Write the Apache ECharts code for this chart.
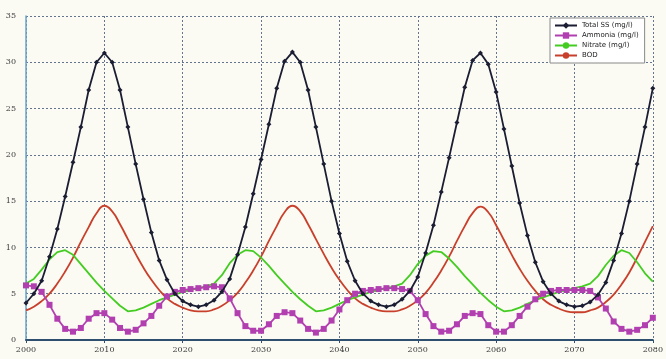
<!DOCTYPE html>
<html>
<head>
<meta charset="utf-8">
<script src="https://cdn.jsdelivr.net/npm/echarts@6/dist/echarts.min.js"></script>
<style>
html,body{margin:0;padding:0;background:#fbfbf3;}
#c{width:666px;height:359px;}
</style>
</head>
<body>
<div id="c"></div>
<script>
const years = [];
for (let y = 2000; y <= 2080; y++) years.push(y);

const xTicks = [2000, 2010, 2020, 2030, 2040, 2050, 2060, 2070, 2080];
const yTicks = [0, 5, 10, 15, 20, 25, 30, 35];

const seriesNames = ["Total SS (mg/l)", "Ammonia (mg/l)", "Nitrate (mg/l)", "BOD"];

const totalSS = [
  4.0, 5.0, 6.4, 9.0, 12.0, 15.5, 19.2, 23.0, 27.0, 30.0,
  31.0, 30.0, 27.0, 23.0, 19.0, 15.2, 11.6, 8.6, 6.5, 5.0,
  4.2, 3.8, 3.6, 3.8, 4.3, 5.2, 6.6, 9.2, 12.2, 15.8,
  19.5, 23.3, 27.2, 30.1, 31.1, 30.0, 27.0, 23.0, 19.0, 15.0,
  11.5, 8.5, 6.4, 5.0, 4.2, 3.8, 3.6, 3.8, 4.4, 5.3,
  6.8, 9.4, 12.4, 16.0, 19.7, 23.5, 27.3, 30.2, 31.0, 29.8,
  26.8, 22.8, 18.8, 14.8, 11.3, 8.4, 6.3, 5.0, 4.2, 3.8,
  3.6, 3.7, 4.1, 4.9, 6.2, 8.6, 11.5, 15.0, 19.0, 23.0,
  27.2
];

const ammonia = [
  5.9, 5.8, 5.2, 3.8, 2.3, 1.2, 0.9, 1.3, 2.3, 2.9,
  2.9, 2.2, 1.3, 0.9, 1.1, 1.8, 2.6, 3.7, 4.7, 5.2,
  5.4, 5.5, 5.6, 5.7, 5.8, 5.7, 4.5, 2.9, 1.5, 1.0,
  1.0, 1.7, 2.6, 3.0, 2.9, 2.1, 1.2, 0.8, 1.2, 2.1,
  3.3, 4.3, 5.0, 5.3, 5.4, 5.5, 5.6, 5.6, 5.5, 5.3,
  4.3, 2.8, 1.5, 0.9, 1.0, 1.7, 2.6, 2.9, 2.8, 1.6,
  0.9, 0.9, 1.6, 2.6, 3.6, 4.4, 5.0, 5.3, 5.4, 5.4,
  5.4, 5.4, 5.3, 4.6, 3.4, 2.0, 1.2, 0.9, 1.1, 1.6,
  2.4
];

const nitrate = [
  6.1, 6.6, 7.6, 8.7, 9.5, 9.7, 9.2, 8.2, 7.2, 6.2,
  5.3, 4.5, 3.7, 3.1, 3.2, 3.5, 3.9, 4.3, 4.6, 4.9,
  5.2, 5.4, 5.6, 5.8, 6.1, 7.0, 8.3, 9.2, 9.7, 9.6,
  8.9, 8.0, 7.0, 6.1, 5.2, 4.4, 3.7, 3.1, 3.2, 3.5,
  3.9, 4.3, 4.6, 4.9, 5.2, 5.4, 5.6, 5.8, 6.1, 7.0,
  8.2, 9.1, 9.6, 9.5, 8.8, 7.9, 6.9, 6.0, 5.1, 4.3,
  3.6, 3.1, 3.2, 3.5, 3.9, 4.3, 4.6, 4.9, 5.2, 5.4,
  5.6, 5.8, 6.1, 6.9, 8.1, 9.1, 9.7, 9.4, 8.4, 7.2,
  6.3
];

const bod = [
  3.2, 3.6, 4.2, 5.0, 6.1, 7.4, 8.9, 10.6, 12.2, 13.7,
  14.5, 13.9, 12.5, 10.9, 9.3, 7.8, 6.5, 5.4, 4.5, 3.9,
  3.5, 3.2, 3.1, 3.1, 3.3, 3.7, 4.3, 5.1, 6.2, 7.5,
  9.0, 10.7, 12.3, 13.8, 14.5, 13.9, 12.5, 10.9, 9.3, 7.8,
  6.5, 5.4, 4.5, 3.9, 3.5, 3.2, 3.1, 3.1, 3.3, 3.7,
  4.3, 5.1, 6.2, 7.5, 9.0, 10.7, 12.3, 13.7, 14.4, 13.8,
  12.4, 10.8, 9.2, 7.7, 6.4, 5.3, 4.4, 3.8, 3.4, 3.1,
  3.0, 3.0, 3.2, 3.5, 4.1, 4.9, 6.0, 7.3, 8.9, 10.6,
  12.3
];

const colors = ["#1b1d33", "#b23fb0", "#44cc22", "#c8402c"];

function pairs(vals) { return years.map((y, i) => [y, vals[i]]); }

const chart = echarts.init(document.getElementById('c'), null, {renderer: 'canvas'});
const gridLine = {show: true, lineStyle: {color: '#66758f', type: [2, 2], width: 1}};
const axisFont = {fontFamily: 'DejaVu Serif', fontSize: 8, color: '#3a3a3a'};

chart.setOption({
  backgroundColor: '#fbfbf3',
  animation: false,
  grid: {left: 26, right: 12, top: 16, bottom: 19, containLabel: false},
  xAxis: {
    type: 'value', min: xTicks[0], max: xTicks[xTicks.length - 1], interval: 10,
    axisLine: {show: true, lineStyle: {color: '#2f4f6f', width: 2}},
    axisTick: {show: true, length: 3, lineStyle: {color: '#2f4f6f'}},
    axisLabel: Object.assign({margin: 6, formatter: v => String(v)}, axisFont),
    splitLine: gridLine
  },
  yAxis: {
    type: 'value', min: yTicks[0], max: yTicks[yTicks.length - 1], interval: 5,
    axisLine: {show: true, lineStyle: {color: '#6aa6c8', width: 1.5}},
    axisTick: {show: false},
    axisLabel: Object.assign({margin: 10}, axisFont),
    splitLine: gridLine
  },
  legend: {
    orient: 'vertical', left: 550, top: 18, width: 87,
    backgroundColor: '#ffffff', borderColor: '#888', borderWidth: 1,
    padding: [4, 6, 4, 4], itemGap: 3, itemWidth: 22, itemHeight: 8,
    textStyle: {fontSize: 7, color: '#222', fontFamily: 'DejaVu Sans'},
    data: seriesNames
  },
  series: [
    {name: seriesNames[3], type: 'line', data: pairs(bod), showSymbol: false, symbol: 'circle', symbolSize: 3,
     smooth: true, lineStyle: {color: colors[3], width: 1.8}, itemStyle: {color: colors[3]}, z: 2},
    {name: seriesNames[2], type: 'line', data: pairs(nitrate), showSymbol: false, symbol: 'circle', symbolSize: 3,
     lineStyle: {color: colors[2], width: 1.8}, itemStyle: {color: colors[2]}, z: 3},
    {name: seriesNames[1], type: 'line', data: pairs(ammonia), symbol: 'rect', symbolSize: 6,
     lineStyle: {color: colors[1], width: 1.8}, itemStyle: {color: colors[1]}, z: 4},
    {name: seriesNames[0], type: 'line', data: pairs(totalSS), symbol: 'diamond', symbolSize: 5,
     lineStyle: {color: colors[0], width: 1.8}, itemStyle: {color: colors[0]}, z: 5}
  ]
});
</script>
</body>
</html>
